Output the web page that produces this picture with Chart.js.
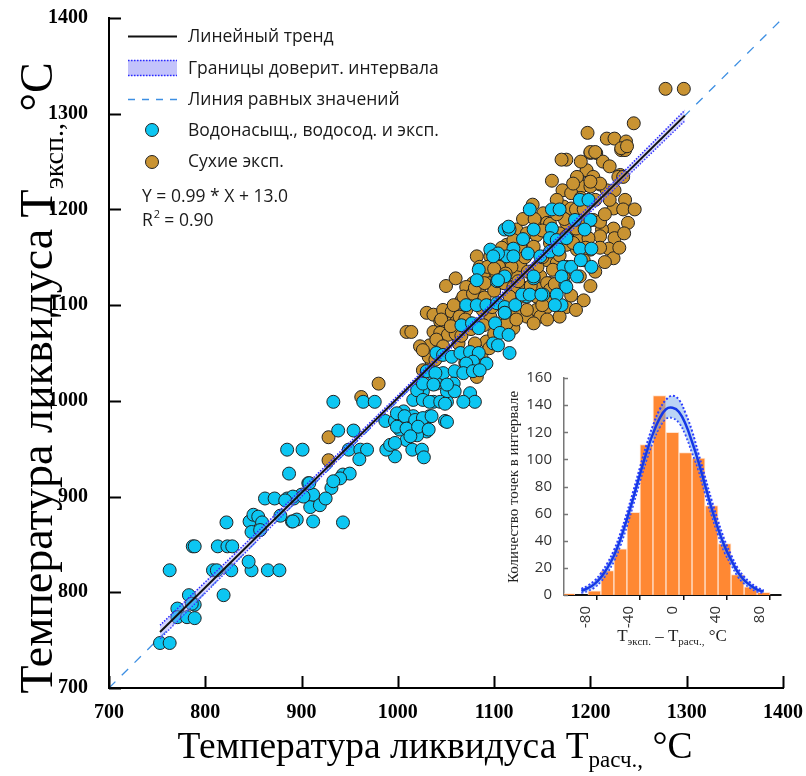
<!DOCTYPE html>
<html>
<head>
<meta charset="utf-8">
<script src="https://cdn.jsdelivr.net/npm/chart.js@4.4.1/dist/chart.umd.min.js"></script>
<style>
  body { margin: 0; background: #fff; }
  #wrap { position: relative; width: 806px; height: 776px; }
  #main { position: absolute; left: 0; top: 0; }
  #inset { position: absolute; left: 490px; top: 360px; }
</style>
</head>
<body>
<div id="wrap">
  <canvas id="main" width="806" height="776"></canvas>
  <canvas id="inset" width="300" height="290"></canvas>
</div>
<script>
// ---- main scatter: T calc (x) vs T exp (y) ----
const wetPoints = [
  [753,747],[763,747],[771,783],[771,774],[781,774],[789,773],[783,797],[789,787],[786,788],[819,797],
  [763,823],[808,823],[812,823],[827,823],[848,823],[865,823],[877,823],[845,832],[787,848],[789,848],
  [813,848],[823,848],[828,848],[822,873],[846,874],[850,881],[855,879],[859,873],[848,863],[857,865],
  [862,898],[872,898],[885,898],[892,898],[900,902],[878,880],[890,874],[895,876],[912,874],[909,889],
  [912,902],[907,914],
  [885,949],[901,949],[887,924],[933,999],[938,969],[954,969],[964,999],[976,999],[949,949],[961,949],
  [968,949],[960,939],[943,923],[950,924],[940,919],[931,909],[933,916],[908,914],[891,900],[902,900],
  [883,896],[919,891],[925,898],[891,874],[943,873],
  [987,979],[997,979],[1002,970],[1007,978],[1006,989],[1016,984],[1023,978],[1033,984],[1030,968],[1020,964],
  [1009,959],[1015,949],[1025,949],[1027,941],[997,942],[988,949],[992,954],[1016,1001],[1026,1010],[1037,999],
  [1051,999],[1049,979],[1020,1011],[1037,1027],[1047,1029],[1059,1031],[1058,1018],[1040,1018],[1051,1010],[1059,1010],
  [1071,1100],[1082,1100],[1092,1100],[1103,1102],[1111,1098],[1122,1100],[1134,1109],[1151,1111],[1165,1100],[1170,1100],
  [1103,1125],[1084,1137],[1141,1128],[1174,1121],[1066,1079],[1077,1081],[1084,1076],[1101,1081],[1111,1092],[1106,1071],
  [1115,1069],[1099,1060],[1104,1058],[1116,1050],[1040,1050],[1047,1048],[1056,1046],[1065,1050],[1075,1051],[1084,1050],
  [1092,1039],[1078,1041],[1071,1039],[1030,1031],[1039,1029],[1068,1029],[1078,1031],[1085,1032],[1026,1018],[1037,1017],
  [1051,1017],[1075,1008],[1080,999],[1068,999],[1026,1001],[1033,999],[1044,999],[1049,997],[999,987],[1007,984],
  [1018,980],[1026,982],[1035,984],[1051,978],[999,973],[1009,971],[1021,973],[1032,970],[997,956],[1013,963],
  [1137,1200],[1160,1200],[1168,1200],[1189,1210],[1198,1210],[1184,1189],[1200,1189],[1194,1179],[1111,1179],[1116,1179],
  [1141,1179],[1160,1180],[1130,1169],[1158,1170],[1165,1168],[1175,1170],[1189,1159],[1201,1159],[1120,1159],[1135,1154],
  [1148,1151],[1113,1151],[1120,1151],[1158,1156],[1167,1158],[1172,1140],[1180,1140],[1141,1130],[1111,1130],[1170,1130],
  [1186,1130],[1175,1119],[1129,1111],[1137,1111],[1149,1111],[1165,1111],[1163,1100],[1111,1092],
  [1096,1158],[1104,1154],[1115,1182],[1082,1126],[1104,1126],[1099,1151],[1201,1140],[1190,1147]
];
const dryPoints = [
  [980,1018],[962,1004],[928,962],[928,938],[1035,1041],
  [1009,1072],[1014,1072],[1030,1092],[1037,1090],[1047,1095],[1056,1093],[1044,1083],[1051,1081],[1061,1083],[1037,1072],
  [1044,1071],[1052,1069],[1033,1058],[1040,1064],[1047,1057],[1032,1046],[1039,1043],[1026,1032],[1066,1105],[1077,1107],
  [1078,1123],[1089,1130],[1096,1123],[1085,1112],[1071,1095],[1096,1088],[1106,1081],[1116,1085],[1123,1093],[1134,1088],
  [1144,1095],[1155,1098],[1115,1071],[1120,1076],[1089,1079],[1092,1062],[1082,1025],[1075,1116],[1111,1123],[1103,1132],
  [1122,1133],[1129,1119],[1146,1119],[1155,1107],[1158,1123],[1172,1130],
  [1023,1057],[1026,1053],[1082,1151],[1096,1151],[1085,1140],[1071,1119],[1068,1109],[1078,1112],
  [1070,1040],[1087,1045],[1095,1055],[1063,1060],
  [1175,1252],[1200,1259],[1206,1259],[1213,1250],[1232,1262],[1236,1262],[1231,1236],[1171,1220],[1186,1233],[1196,1240],
  [1203,1229],[1210,1226],[1217,1220],[1191,1224],[1200,1224],[1180,1217],[1236,1210],[1224,1201],[1234,1200],[1246,1200],
  [1239,1186],[1224,1180],[1225,1170],[1219,1159],[1224,1149],[1212,1179],
  [1151,1196],[1172,1203],[1180,1201],[1144,1187],[1155,1186],[1175,1186],[1203,1189],[1210,1187],[1123,1179],[1134,1175],
  [1144,1173],[1168,1175],[1175,1172],[1189,1172],[1210,1172],[1113,1163],[1127,1161],[1141,1161],[1158,1165],[1175,1163],
  [1186,1158],[1200,1158],[1113,1147],[1127,1142],[1155,1147],[1165,1144],[1175,1140],[1193,1147],[1110,1123],[1120,1119],
  [1148,1130],[1155,1123],[1161,1137],[1189,1130],[1116,1109],[1130,1109],[1144,1109],[1158,1116],[1134,1095],[1148,1088],
  [1175,1098],[1193,1105],[1113,1081],[1123,1085],[1141,1081],[1155,1085],[1168,1088],
  [1278,1326],[1297,1326],[1245,1290],[1197,1280],[1217,1274],[1225,1274],[1237,1271],[1232,1264],[1238,1266],[1200,1260],
  [1205,1260],[1196,1241],[1186,1234],[1203,1234],[1210,1227],[1229,1234],[1234,1234],[1182,1227],[1200,1229],[1170,1252],
  [1058,1100],[1064,1088],[1090,1108],[1100,1115],[1118,1140],[1105,1140],[1132,1150],[1145,1140],[1138,1120],[1150,1100],
  [1163,1122],[1180,1110],[1185,1095],[1200,1120],[1205,1135],[1195,1185],[1185,1200],[1165,1210],[1158,1185],[1130,1190],
  [1120,1168],[1060,1070],[1070,1085],[1080,1060],[1100,1070],[1230,1160],[1235,1175],[1220,1245],[1190,1250],[1160,1230],
  [1140,1205],[1215,1195],[1050,1120],[1060,1128],[1093,1140],[1108,1160],[1142,1190],[1173,1190],[1193,1200],[1198,1170],
  [1225,1220],
  [1045,1085],[1055,1078],[1066,1068],[1076,1075],[1088,1095],[1098,1098],[1080,1118],[1090,1123],[1100,1138],[1112,1133],
  [1125,1125],[1135,1135],[1150,1150],[1168,1152],[1182,1165],[1195,1160],[1210,1160],[1215,1145],[1185,1180],[1165,1195],
  [1150,1178],[1205,1210],[1220,1210],[1190,1212]
];
const trendX = [753, 1298];
const trendY = [758.5, 1298];
const ciX = [753, 850, 950, 1050, 1150, 1250, 1298];
const ciUpper = [765.5, 859, 956.5, 1055, 1154.5, 1255, 1303.5];
const ciLower = [751.5, 850, 950.5, 1050, 1148.5, 1246, 1292.5];
const equalX = [700, 1400];
const equalY = [700, 1400];

// ---- inset histogram of residuals ----
const binCenters = [-96, -84, -72, -60, -48, -36, -24, -12, 0, 12, 24, 36, 48, 60, 72, 84];
const binCounts = [1, 0, 3, 18, 34, 61, 111, 147, 120, 105, 101, 66, 38, 15, 6, 2];
const gaussX = [-84,-78,-72,-66,-60,-54,-48,-42,-36,-30,-24,-18,-12,-6,0,6,12,18,24,30,36,42,48,54,60,66,72,78,84];
const gaussFit = [3,5,8,13,20,29,41,56,72,89,105,119,130,137,138,135,126,113,98,81,64,49,36,26,17,11,7,4,2.5];
const gaussUp = [4.5,7,10.5,16,23.5,33,45.5,60.5,77,94,110.5,125,136.5,144,147,144,134,121,104,87,70,54.5,40.5,29.5,20,13.5,9,5.5,3.5];
const gaussLo = [1.5,3,5.5,10,16.5,25,36.5,51,67,84,99.5,113,123.5,130,130.5,127,118,105,92,75,59,44.5,31.5,22.5,14,8.5,5,2.5,1.5];
const insetXLabels = [-80, -40, 0, 40, 80];

const serif = '"Liberation Serif", "Times New Roman", serif';
const sans = '"Open Sans", "Noto Sans", sans-serif';
Chart.defaults.font.family = sans;

const xy = (xs, ys) => xs.map((x, i) => ({ x: x, y: ys[i] }));
const pts = arr => arr.map(p => ({ x: p[0], y: p[1] }));

// text with subscripts: parts = [text, font, dy]
function drawRich(ctx, parts, x, y, rotate, color) {
  ctx.save();
  ctx.translate(x, y);
  if (rotate) ctx.rotate(-Math.PI / 2);
  ctx.fillStyle = color || '#000';
  ctx.textAlign = 'left';
  ctx.textBaseline = 'alphabetic';
  let total = 0;
  parts.forEach(p => { ctx.font = p[1]; total += ctx.measureText(p[0]).width; });
  let cx = -total / 2;
  parts.forEach(p => {
    ctx.font = p[1];
    ctx.fillText(p[0], cx, p[2]);
    cx += ctx.measureText(p[0]).width;
  });
  ctx.restore();
}

// tick marks pointing into the plot area
function innerTicks(id, axes, len, width, color) {
  return {
    id: id,
    afterDraw(chart) {
      const { ctx, chartArea } = chart;
      ctx.save();
      ctx.strokeStyle = color;
      ctx.lineWidth = width;
      ctx.beginPath();
      if (axes.includes('x')) {
        const s = chart.scales.x;
        s.ticks.forEach(t => {
          const px = Math.round(s.getPixelForValue(t.value)) + 0.5;
          ctx.moveTo(px, chartArea.bottom);
          ctx.lineTo(px, chartArea.bottom - len);
        });
      }
      if (axes.includes('y')) {
        const s = chart.scales.y;
        s.ticks.forEach(t => {
          const py = Math.round(s.getPixelForValue(t.value)) + 0.5;
          ctx.moveTo(chartArea.left, py);
          ctx.lineTo(chartArea.left + len, py);
        });
      }
      ctx.stroke();
      ctx.restore();
    }
  };
}

const mainDecor = {
  id: 'mainDecor',
  afterDraw(chart) {
    const ctx = chart.ctx;
    const big = '37.5px ' + serif, sub = '23px ' + serif;
    drawRich(ctx, [['Температура ликвидуса T', big, 0], ['расч.,', sub, 9], [' °C', big, 0]], 435, 758, false);
    const bigY = '46px ' + serif, subY = '28px ' + serif;
    drawRich(ctx, [['Температура ликвидуса T', bigY, 0], ['эксп.,', subY, 11], [' °C', bigY, 0]], 52, 378, true);

    // legend
    ctx.save();
    ctx.lineWidth = 2;
    ctx.strokeStyle = '#111';
    ctx.beginPath(); ctx.moveTo(128, 36.5); ctx.lineTo(177, 36.5); ctx.stroke();

    ctx.fillStyle = 'rgba(185,185,250,0.85)';
    ctx.fillRect(128, 60, 49, 16);
    ctx.strokeStyle = '#2a2aff';
    ctx.lineWidth = 1.5;
    ctx.setLineDash([1.5, 1.5]);
    ctx.beginPath();
    ctx.moveTo(128, 60.5); ctx.lineTo(177, 60.5);
    ctx.moveTo(128, 75.5); ctx.lineTo(177, 75.5);
    ctx.stroke();

    ctx.strokeStyle = '#3d8fe3';
    ctx.lineWidth = 1.3;
    ctx.setLineDash([7, 7]);
    ctx.beginPath(); ctx.moveTo(128, 99.5); ctx.lineTo(177, 99.5); ctx.stroke();
    ctx.setLineDash([]);

    [[130, '#0cc6f2'], [162, '#c99332']].forEach(c => {
      ctx.beginPath();
      ctx.arc(152, c[0], 6.5, 0, Math.PI * 2);
      ctx.fillStyle = c[1];
      ctx.fill();
      ctx.lineWidth = 1;
      ctx.strokeStyle = '#222';
      ctx.stroke();
    });

    const lf = '17.5px ' + sans;
    ctx.fillStyle = '#1a1a1a';
    ctx.font = lf;
    ctx.textBaseline = 'middle';
    ctx.textAlign = 'left';
    ctx.fillText('Линейный тренд', 188, 37);
    ctx.fillText('Границы доверит. интервала', 188, 69);
    ctx.fillText('Линия равных значений', 188, 100);
    ctx.fillText('Водонасыщ., водосод. и эксп.', 188, 131);
    ctx.fillText('Сухие эксп.', 188, 162);
    ctx.fillText('Y = 0.99 * X + 13.0', 142, 197);
    ctx.fillText('R', 142, 221);
    const rw = ctx.measureText('R').width;
    ctx.font = '11px ' + sans;
    ctx.fillText('2', 142 + rw + 1, 215);
    ctx.font = lf;
    ctx.fillText(' = 0.90', 142 + rw + 7, 221);
    ctx.restore();
  }
};

new Chart(document.getElementById('main'), {
  type: 'scatter',
  data: {
    datasets: [
      { type: 'line', data: xy(trendX, trendY), borderColor: '#111', borderWidth: 2,
        pointRadius: 0, tension: 0, fill: false, order: 0 },
      { type: 'line', data: xy(ciX, ciUpper), borderColor: '#2a2aff', borderWidth: 1.5, borderDash: [1.5, 1.5],
        pointRadius: 0, tension: 0.3, fill: '+1', backgroundColor: 'rgba(150,150,255,0.4)', order: 1 },
      { type: 'line', data: xy(ciX, ciLower), borderColor: '#2a2aff', borderWidth: 1.5, borderDash: [1.5, 1.5],
        pointRadius: 0, tension: 0.3, fill: false, order: 1 },
      { data: pts(wetPoints), backgroundColor: '#0cc6f2', borderColor: '#222', borderWidth: 1,
        pointRadius: 6.5, order: 2 },
      { data: pts(dryPoints), backgroundColor: '#c99332', borderColor: '#222', borderWidth: 1,
        pointRadius: 6.5, order: 3 },
      { type: 'line', data: xy(equalX, equalY), borderColor: '#3d8fe3', borderWidth: 1.3, borderDash: [9, 9],
        pointRadius: 0, fill: false, order: 4 }
    ]
  },
  options: {
    responsive: false,
    animation: false,
    events: [],
    layout: { padding: { left: 0, right: 23, top: 18, bottom: 0 }, autoPadding: false },
    plugins: { legend: { display: false }, tooltip: { enabled: false } },
    scales: {
      x: {
        type: 'linear', min: 700, max: 1400,
        ticks: { stepSize: 100, color: '#000', padding: 0, font: { family: serif, size: 20, weight: 'bold' },
          callback: v => String(v) },
        grid: { display: false, drawTicks: true, tickLength: 13 },
        border: { display: true, color: '#000', width: 2 },
        afterFit: s => { s.height = 88; }
      },
      y: {
        type: 'linear', min: 700, max: 1400,
        ticks: { stepSize: 100, color: '#000', padding: 0, font: { family: serif, size: 20, weight: 'bold' },
          callback: v => String(v) },
        grid: { display: false, drawTicks: true, tickLength: 21 },
        border: { display: true, color: '#000', width: 2 },
        afterFit: s => { s.width = 109; }
      }
    }
  },
  plugins: [innerTicks('mainTicks', ['x', 'y'], 12, 2, '#000'), mainDecor]
});

const insetDecor = {
  id: 'insetDecor',
  afterDraw(chart) {
    const ctx = chart.ctx;
    drawRich(ctx, [['Количество точек в интервале', '15px ' + serif, 0]], 28, 127, true, '#222');
    const f = '17px ' + serif, s = '11px ' + serif;
    drawRich(ctx, [['T', f, 0], ['эксп.', s, 4], [' – T', f, 0], ['расч.,', s, 4], [' °C', f, 0]], 182, 281, false, '#222');
  }
};

new Chart(document.getElementById('inset'), {
  type: 'bar',
  data: {
    datasets: [
      { type: 'line', data: xy(gaussX, gaussFit), borderColor: '#1538e6', borderWidth: 2.5,
        pointRadius: 0, tension: 0.4, fill: false, order: 0 },
      { type: 'line', data: xy(gaussX, gaussUp), borderColor: '#2b3cff', borderWidth: 2, borderDash: [2, 2],
        pointRadius: 0, tension: 0.4, fill: '+1', backgroundColor: 'rgba(120,170,235,0.5)', order: 1 },
      { type: 'line', data: xy(gaussX, gaussLo), borderColor: '#2b3cff', borderWidth: 2, borderDash: [2, 2],
        pointRadius: 0, tension: 0.4, fill: false, order: 1 },
      { type: 'bar', data: xy(binCenters, binCounts), backgroundColor: '#ff8833',
        borderColor: 'rgba(255,225,205,0.9)', borderWidth: 1, barPercentage: 1, categoryPercentage: 1, order: 2 }
    ]
  },
  options: {
    responsive: false,
    animation: false,
    events: [],
    layout: { padding: { left: 0, right: 9, top: 18, bottom: 0 }, autoPadding: false },
    plugins: { legend: { display: false }, tooltip: { enabled: false } },
    scales: {
      x: {
        type: 'linear', min: -100, max: 100, offset: false,
        ticks: {
          stepSize: 20, autoSkip: false, minRotation: 90, maxRotation: 90, padding: 6,
          color: '#333', font: { family: sans, size: 15 },
          callback: v => insetXLabels.includes(v) ? String(v) : ''
        },
        grid: {
          display: true, drawOnChartArea: false, drawTicks: true, tickLength: 5, lineWidth: 1.5,
          tickColor: c => (c.tick && insetXLabels.includes(c.tick.value)) ? 'rgba(0,0,0,0)' : '#111'
        },
        border: { display: true, color: '#111', width: 2 },
        afterFit: s => { s.height = 55; s.paddingRight = 0; s.paddingLeft = 0; }
      },
      y: {
        min: 0, max: 160,
        ticks: { stepSize: 20, padding: 0, color: '#333', font: { family: sans, size: 15 } },
        grid: { display: false, drawTicks: true, tickLength: 12 },
        border: { display: true, color: '#777', width: 1.5 },
        afterFit: s => { s.width = 74; }
      }
    }
  },
  plugins: [innerTicks('insetTicks', ['y'], 4, 1.5, '#777'), insetDecor]
});
</script>
</body>
</html>
